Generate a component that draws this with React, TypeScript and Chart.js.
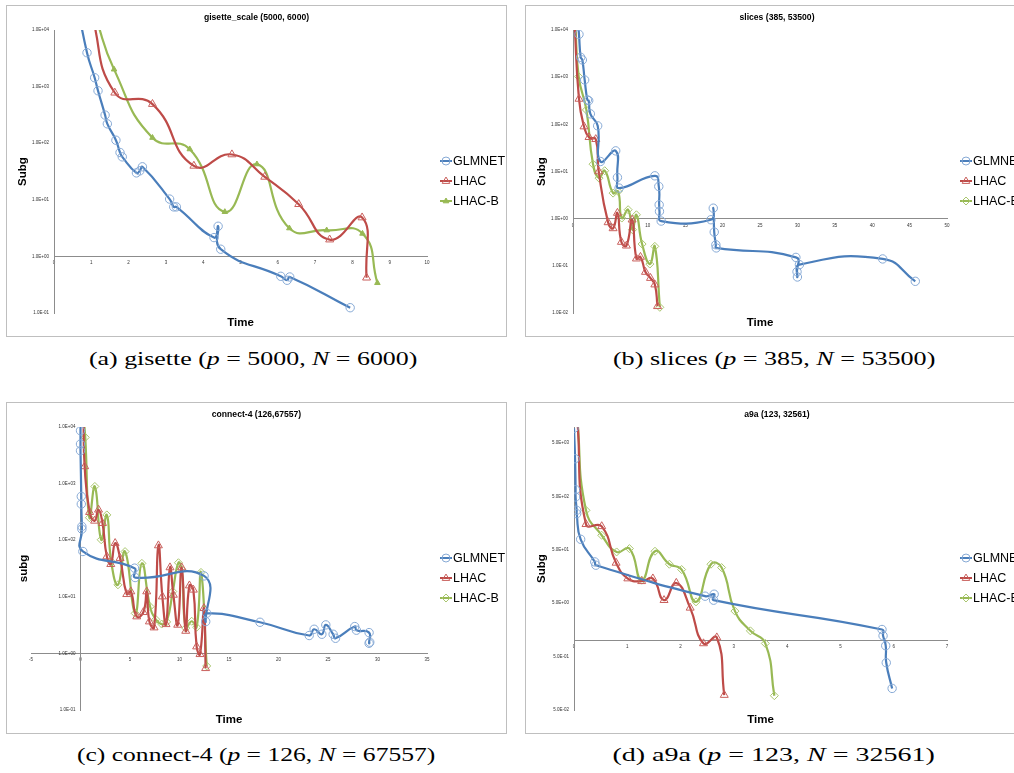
import React, { useEffect, useLayoutEffect, useRef } from 'react';
import { Chart, registerables } from 'chart.js';

Chart.register(...registerables);
Chart.defaults.font.family = "'Liberation Sans', Arial, sans-serif";

// ---------------- data ----------------
// (a) gisette_scale
const gisetteGlmnetTime = [0.6, 0.885, 1.09, 1.18, 1.37, 1.43, 1.66, 1.77, 1.83, 2.21, 2.3, 2.37, 3.1, 3.21, 3.28, 4.29, 4.4, 4.47, 6.08, 6.25, 6.32, 7.94];
const gisetteGlmnetSubg = [35000, 3970, 1435, 845, 314, 220, 113, 68.5, 57.4, 29.9, 32.5, 38.3, 10.3, 7.5, 7.5, 2.15, 3.41, 1.34, 0.445, 0.379, 0.433, 0.124];
const gisetteLhacTime = [1.0, 1.63, 2.64, 3.75, 4.77, 5.65, 6.56, 7.39, 8.26, 8.38];
const gisetteLhacSubg = [20000, 779, 491, 39.8, 63.2, 25.4, 8.36, 1.98, 4.86, 0.42];
const gisetteLhacBTime = [1.1, 1.61, 2.64, 3.64, 4.58, 5.44, 6.31, 7.31, 8.27, 8.67];
const gisetteLhacBSubg = [18000, 2015, 125, 78.5, 6.12, 42.6, 3.15, 2.9, 2.53, 0.34];

// (b) slices
const slicesGlmnetTime = [0.6, 0.8, 1.03, 1.25, 1.56, 1.92, 2.1, 2.32, 3.3, 3.66, 5.71, 5.94, 6.16, 10.94, 11.47, 11.52, 11.56, 11.79, 18.44, 18.75, 18.88, 19.1, 19.15, 29.8, 29.95, 30.0, 30.27, 41.4, 45.76];
const slicesGlmnetSubg = [20000, 8090, 2640, 2320, 873, 330, 318, 167, 93, 16.3, 27.4, 7.48, 4.45, 8.1, 4.82, 1.97, 1.43, 0.89, 0.95, 1.67, 0.52, 0.28, 0.24, 0.151, 0.075, 0.058, 0.106, 0.14, 0.047];
const slicesLhacTime = [0.2, 0.8, 1.47, 2.14, 3.04, 3.44, 4.69, 5.36, 5.94, 6.47, 7.14, 7.9, 8.48, 9.02, 9.69, 10.36, 10.94, 11.3];
const slicesLhacSubg = [15000, 346, 89.8, 53.4, 48.4, 10.0, 0.834, 0.622, 1.32, 0.32, 0.267, 0.95, 0.142, 0.154, 0.074, 0.055, 0.04, 0.0139];
const slicesLhacBTime = [0.3, 0.76, 1.79, 2.68, 3.48, 4.24, 5.36, 6.03, 6.52, 7.37, 7.95, 8.48, 9.24, 10.27, 10.94, 11.61];
const slicesLhacBSubg = [15000, 1028, 202, 14.3, 7.24, 10.4, 3.48, 3.78, 1.03, 1.55, 0.583, 1.21, 0.29, 0.109, 0.259, 0.0132];

// (c) connect-4
const connectGlmnetTime = [0.0, 0.0, 0.0, 0.0, 0.08, 0.08, 0.14, 0.14, 0.24, 5.46, 5.52, 12.48, 12.65, 12.75, 18.13, 23.1, 23.6, 24.38, 24.78, 25.52, 25.76, 27.7, 27.87, 29.15, 29.15, 29.22];
const connectGlmnetSubg = [20000, 8610, 5000, 3810, 594, 435, 175, 157, 63.2, 32.1, 21.9, 23.4, 3.65, 5.13, 3.55, 2.07, 2.67, 2.18, 3.19, 2.18, 1.85, 2.98, 2.57, 2.33, 1.51, 1.58];
const connectLhacTime = [0.3, 0.42, 0.92, 1.42, 1.82, 2.22, 2.66, 3.06, 3.5, 4.0, 4.67, 5.08, 5.68, 6.35, 6.69, 6.96, 7.43, 7.87, 8.27, 8.64, 9.04, 9.38, 9.82, 10.22, 10.63, 11.0, 11.4, 11.73, 12.07, 12.47, 12.64];
const connectLhacSubg = [15000, 2015, 313, 220, 345, 200, 51.5, 37.7, 88.7, 48.2, 11.1, 12.4, 4.48, 5.34, 12.4, 3.65, 2.86, 80.7, 10.1, 3.27, 33, 10.8, 3.19, 33, 2.49, 15.8, 13.3, 1.32, 0.966, 6.28, 0.546];
const connectLhacBTime = [0.3, 0.48, 0.9, 1.45, 2.09, 2.66, 3.1, 3.78, 4.5, 5.52, 6.2, 7.03, 7.6, 8.2, 8.7, 9.32, 9.89, 10.23, 10.63, 11.23, 11.73, 12.17, 12.75];
const connectLhacBSubg = [15000, 6560, 250, 891, 102, 280, 42, 16.3, 63, 5.1, 39, 6.7, 4.0, 3.3, 3.6, 12.4, 40, 30.5, 2.8, 3.7, 2.9, 27, 0.6];

// (d) a9a
const a9aGlmnetTime = [0.0, 0.02, 0.03, 0.03, 0.05, 0.05, 0.125, 0.39, 0.41, 2.46, 2.63, 2.62, 5.78, 5.8, 5.85, 5.86, 5.97];
const a9aGlmnetSubg = [9500, 2546, 670, 489, 275, 238, 78.9, 29.7, 25.8, 6.78, 7.38, 5.7, 1.61, 1.23, 0.8, 0.384, 0.127];
const a9aLhacTime = [0.06, 0.225, 0.52, 0.79, 1.01, 1.27, 1.48, 1.69, 1.92, 2.18, 2.43, 2.68, 2.82];
const a9aLhacSubg = [15000, 151, 138, 28.5, 14.5, 12.9, 14.5, 5.7, 12.0, 4.1, 0.883, 1.14, 0.0953];
const a9aLhacBTime = [0.06, 0.225, 0.52, 0.8, 1.04, 1.27, 1.52, 1.79, 2.02, 2.29, 2.57, 2.77, 3.02, 3.31, 3.59, 3.76];
const a9aLhacBSubg = [15000, 275, 93.8, 45.7, 52.8, 13.5, 47.1, 26.9, 21.4, 5.31, 26.9, 23.3, 3.56, 1.52, 0.883, 0.0927];

// tick values
const yTicksGisette = [0.1, 1, 10, 100, 1000, 10000];
const yTicksSlices = [0.01, 0.1, 1, 10, 100, 1000, 10000];
const yTicksConnect = [0.1, 1, 10, 100, 1000, 10000];
const yTicksA9a = [0.05, 0.5, 5, 50, 500, 5000];

const seriesNames = ['GLMNET', 'LHAC', 'LHAC-B'];

// ---------------- styling ----------------
const LINE = ['#4A7EBB', '#BE4B48', '#98B954'];
const MARK = ['#86A9D5', '#C9605D', '#A9C66E'];

type Style = 'circle' | 'triangle' | 'triFill' | 'diamond';

function fmtSci(v: number): string {
  const e = Math.floor(Math.log10(v) + 1e-9);
  const m = v / Math.pow(10, e);
  const sign = e < 0 ? '-' : '+';
  return m.toFixed(1) + 'E' + sign + String(Math.abs(e)).padStart(2, '0');
}

function makeDataset(idx: number, t: number[], s: number[], style: Style) {
  const ps = style === 'circle' ? 'circle' : style === 'diamond' ? 'rectRot' : 'triangle';
  const r = style === 'circle' ? 4.2 : style === 'triangle' ? 4.6 : style === 'triFill' ? 3.2 : 4.0;
  return {
    label: seriesNames[idx],
    data: t.map((x, i) => ({ x, y: s[i] })),
    borderColor: LINE[idx],
    backgroundColor: LINE[idx],
    borderWidth: 2.2,
    tension: 0.5,
    capBezierPoints: false,
    fill: false,
    clip: 0,
    pointStyle: ps,
    pointRadius: r,
    pointBorderWidth: 1,
    pointBorderColor: style === 'triFill' ? LINE[idx] : MARK[idx],
    pointBackgroundColor: style === 'triFill' ? LINE[idx] : 'rgba(255,255,255,0)',
    _style: style,
  } as any;
}

function drawMarker(ctx: CanvasRenderingContext2D, style: string, x: number, y: number, r: number, stroke: string, fill: string) {
  ctx.save();
  ctx.lineWidth = 1;
  ctx.strokeStyle = stroke;
  ctx.fillStyle = fill;
  ctx.beginPath();
  if (style === 'circle') {
    ctx.arc(x, y, r, 0, Math.PI * 2);
  } else if (style === 'diamond') {
    ctx.moveTo(x, y - r); ctx.lineTo(x + r, y); ctx.lineTo(x, y + r); ctx.lineTo(x - r, y); ctx.closePath();
  } else {
    const w = r * 0.95;
    ctx.moveTo(x, y - r); ctx.lineTo(x + w, y + r * 0.6); ctx.lineTo(x - w, y + r * 0.6); ctx.closePath();
  }
  ctx.fill();
  ctx.stroke();
  ctx.restore();
}

const legendPlugin = {
  id: 'xlLegend',
  afterDraw(chart: any) {
    const ctx = chart.ctx as CanvasRenderingContext2D;
    const area = chart.chartArea;
    const x0 = area.right + 13;
    chart.data.datasets.forEach((ds: any, i: number) => {
      const y = area.top + 131 + i * 20;
      ctx.save();
      ctx.strokeStyle = ds.borderColor;
      ctx.lineWidth = 2;
      ctx.beginPath();
      ctx.moveTo(x0, y);
      ctx.lineTo(x0 + 12, y);
      ctx.stroke();
      drawMarker(ctx, ds._style === 'triFill' ? 'triangle' : ds._style, x0 + 6, y, ds._style === 'triFill' ? 3 : 4, ds.pointBorderColor, ds.pointBackgroundColor);
      ctx.fillStyle = '#000';
      ctx.font = "12.5px 'Liberation Sans', Arial, sans-serif";
      ctx.textBaseline = 'middle';
      ctx.textAlign = 'left';
      ctx.fillText(ds.label, x0 + 13, y + 0.5);
      ctx.restore();
    });
  },
};

interface PanelCfg {
  title: string;
  yTitle: string;
  xMin: number;
  xMax: number;
  xStep: number;
  yMin: number;
  yMax: number;
  yTicks: number[];
  yAtZero: boolean;
  datasets: any[];
  plotLeft: number;
  plotRight: number;
}

const TICK_FONT = { size: 4.5, family: "'Liberation Sans', Arial, sans-serif" };
const AXIS_COLOR = '#8C8C8C';

function buildConfig(cfg: PanelCfg, W: number, H: number): any {
  const hiddenAxis = (extra: any) => ({
    type: 'linear',
    grid: { display: false, drawTicks: false },
    border: { display: false },
    ticks: { display: false },
    ...extra,
  });
  const scales: any = {
    x: {
      type: 'linear',
      position: { y: 1 },
      min: cfg.xMin,
      max: cfg.xMax,
      ticks: { stepSize: cfg.xStep, font: TICK_FONT, color: '#333', padding: 4, autoSkip: false, maxRotation: 0 },
      grid: { display: false, drawTicks: false },
      border: { color: AXIS_COLOR, width: 1 },
      afterFit: (s: any) => { s.height = 0; },
    },
    y: {
      type: 'logarithmic',
      position: cfg.yAtZero ? { x: 0 } : 'left',
      min: cfg.yMin,
      max: cfg.yMax,
      afterBuildTicks: (s: any) => { s.ticks = cfg.yTicks.map((v) => ({ value: v })); },
      ticks: {
        autoSkip: false,
        font: TICK_FONT,
        color: '#333',
        padding: 5,
        callback: (v: any) => fmtSci(Number(v)) + (cfg.yAtZero ? '    ' : ''),
      },
      grid: { display: false, drawTicks: false },
      border: { color: AXIS_COLOR, width: 1 },
      title: {
        display: !cfg.yAtZero,
        text: cfg.yTitle,
        color: '#000',
        font: { size: 11.5, weight: 'bold' },
        padding: { top: 10, bottom: 0 },
      },
      afterFit: (s: any) => { s.width = cfg.yAtZero ? 0 : cfg.plotLeft; },
    },
    x2: hiddenAxis({
      position: 'bottom',
      title: { display: true, text: 'Time', color: '#000', font: { size: 11.5, weight: 'bold' }, padding: { top: 0, bottom: 7 } },
      afterFit: (s: any) => { s.height = 24; },
    }),
    yR: hiddenAxis({
      position: 'right',
      afterFit: (s: any) => { s.width = W - cfg.plotRight; },
    }),
  };
  if (cfg.yAtZero) {
    scales.y2 = hiddenAxis({
      position: 'left',
      title: { display: true, text: cfg.yTitle, color: '#000', font: { size: 11.5, weight: 'bold' }, padding: { top: 11, bottom: 0 } },
      afterFit: (s: any) => { s.width = cfg.plotLeft; },
    });
  }
  return {
    type: 'line',
    data: { datasets: cfg.datasets },
    plugins: [legendPlugin],
    options: {
      responsive: false,
      animation: false,
      devicePixelRatio: 1,
      layout: { padding: 0 },
      elements: { line: { capBezierPoints: false } },
      plugins: {
        legend: { display: false },
        tooltip: { enabled: false },
        title: {
          display: true,
          text: cfg.title,
          color: '#000',
          font: { size: 8.6, weight: 'bold' },
          padding: { top: 7.5, bottom: 7.2 },
        },
      },
      scales,
    },
  };
}

function Panel({ cfg, left, top, width, height }: { cfg: PanelCfg; left: number; top: number; width: number; height: number }) {
  const ref = useRef<HTMLCanvasElement>(null);
  useEffect(() => {
    const chart = new Chart(ref.current as HTMLCanvasElement, buildConfig(cfg, width, height));
    return () => chart.destroy();
  }, []);
  return (
    <>
      <div style={{ position: 'absolute', left, top, width, height, border: '1px solid #BFBFBF', boxSizing: 'border-box', background: '#fff' }} />
      <canvas ref={ref} width={width} height={height} style={{ position: 'absolute', left, top, width, height }} />
    </>
  );
}

const panels: { cfg: PanelCfg; left: number; top: number; width: number }[] = [
  {
    left: 6, top: 5, width: 501,
    cfg: {
      title: 'gisette_scale (5000, 6000)', yTitle: 'Subg', xMin: 0, xMax: 10, xStep: 1,
      yMin: 0.1, yMax: 10000, yTicks: yTicksGisette, yAtZero: false, plotLeft: 48, plotRight: 421,
      datasets: [
        makeDataset(0, gisetteGlmnetTime, gisetteGlmnetSubg, 'circle'),
        makeDataset(1, gisetteLhacTime, gisetteLhacSubg, 'triangle'),
        makeDataset(2, gisetteLhacBTime, gisetteLhacBSubg, 'triFill'),
      ],
    },
  },
  {
    left: 525, top: 5, width: 504,
    cfg: {
      title: 'slices (385, 53500)', yTitle: 'Subg', xMin: 0, xMax: 50, xStep: 5,
      yMin: 0.01, yMax: 10000, yTicks: yTicksSlices, yAtZero: false, plotLeft: 48, plotRight: 422,
      datasets: [
        makeDataset(0, slicesGlmnetTime, slicesGlmnetSubg, 'circle'),
        makeDataset(1, slicesLhacTime, slicesLhacSubg, 'triangle'),
        makeDataset(2, slicesLhacBTime, slicesLhacBSubg, 'diamond'),
      ],
    },
  },
  {
    left: 6, top: 402, width: 501,
    cfg: {
      title: 'connect-4 (126,67557)', yTitle: 'subg', xMin: -5, xMax: 35, xStep: 5,
      yMin: 0.1, yMax: 10000, yTicks: yTicksConnect, yAtZero: true, plotLeft: 25, plotRight: 421,
      datasets: [
        makeDataset(0, connectGlmnetTime, connectGlmnetSubg, 'circle'),
        makeDataset(1, connectLhacTime, connectLhacSubg, 'triangle'),
        makeDataset(2, connectLhacBTime, connectLhacBSubg, 'diamond'),
      ],
    },
  },
  {
    left: 525, top: 402, width: 504,
    cfg: {
      title: 'a9a (123, 32561)', yTitle: 'Subg', xMin: 0, xMax: 7, xStep: 1,
      yMin: 0.05, yMax: 10000, yTicks: yTicksA9a, yAtZero: false, plotLeft: 49, plotRight: 422,
      datasets: [
        makeDataset(0, a9aGlmnetTime, a9aGlmnetSubg, 'circle'),
        makeDataset(1, a9aLhacTime, a9aLhacSubg, 'triangle'),
        makeDataset(2, a9aLhacBTime, a9aLhacBSubg, 'diamond'),
      ],
    },
  },
];

function Caption({ cx, cy, targetWidth, children }: { cx: number; cy: number; targetWidth: number; children: React.ReactNode }) {
  const ref = useRef<HTMLSpanElement>(null);
  useLayoutEffect(() => {
    const el = ref.current;
    if (!el) return;
    const w = el.offsetWidth;
    if (w > 0) el.style.transform = `scaleX(${targetWidth / w})`;
  }, []);
  return (
    <div style={{ position: 'absolute', left: cx - 300, top: cy - 11, width: 600, textAlign: 'center', lineHeight: '22px' }}>
      <span
        ref={ref}
        style={{
          display: 'inline-block',
          transformOrigin: 'center',
          whiteSpace: 'nowrap',
          fontFamily: "'Liberation Serif', 'Times New Roman', serif",
          fontSize: 18,
          color: '#000',
        }}
      >
        {children}
      </span>
    </div>
  );
}

export default function App() {
  return (
    <div style={{ position: 'absolute', left: 0, top: 0, width: 1014, height: 773, overflow: 'hidden', background: '#fff' }}>
      {panels.map((p, i) => (
        <Panel key={i} cfg={p.cfg} left={p.left} top={p.top} width={p.width} height={332} />
      ))}
      <Caption cx={253} cy={359} targetWidth={328}>
        (a) gisette (<i>p</i> = 5000, <i>N</i> = 6000)
      </Caption>
      <Caption cx={774} cy={359} targetWidth={322}>
        (b) slices (<i>p</i> = 385, <i>N</i> = 53500)
      </Caption>
      <Caption cx={256} cy={755} targetWidth={358}>
        (c) connect-4 (<i>p</i> = 126, <i>N</i> = 67557)
      </Caption>
      <Caption cx={774} cy={755} targetWidth={322}>
        (d) a9a (<i>p</i> = 123, <i>N</i> = 32561)
      </Caption>
    </div>
  );
}
